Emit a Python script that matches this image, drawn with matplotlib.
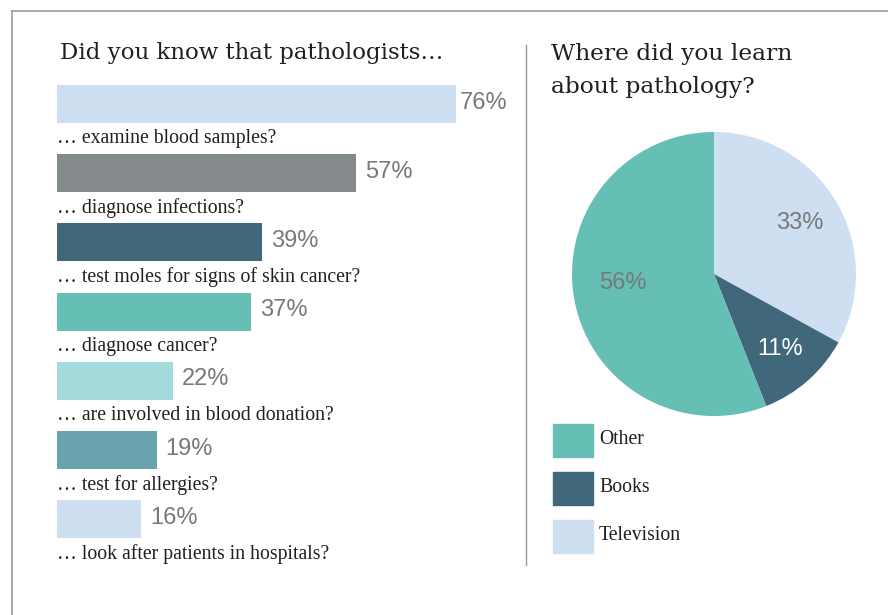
import matplotlib
matplotlib.use('agg')
import matplotlib.pyplot as plt
from matplotlib.lines import Line2D
from matplotlib.patches import Rectangle

# bar chart data
questions = ['… examine blood samples?', '… diagnose infections?',
             '… test moles for signs of skin cancer?', '… diagnose cancer?',
             '… are involved in blood donation?', '… test for allergies?',
             '… look after patients in hospitals?']
shares = [76, 57, 39, 37, 22, 19, 16]
bar_colors = ['#cddff0', '#858a8c', '#41687a', '#66bfb5', '#a4dbdc', '#6aa3ae', '#cddff0']

# pie chart data
sources = ['Television', 'Books', 'Other']
source_shares = [33, 11, 56]
source_colors = ['#cddff0', '#41687a', '#66bfb5']
legend_order = ['Other', 'Books', 'Television']

W, H = 888, 615
fig = plt.figure(figsize=(W / 100, H / 100), dpi=100)

def fx(px):
    return px / W

def fy(px):
    return 1 - px / H

title_font = 'DejaVu Serif'
label_font = 'Liberation Serif'
pct_font = 'Liberation Sans'
dark = '#231f20'
gray = '#77787b'

# frame lines
fig.add_artist(Line2D([fx(12), 1], [fy(11), fy(11)], color='#9a9a9a', lw=1.2))
fig.add_artist(Line2D([fx(12), fx(12)], [0, fy(11)], color='#9a9a9a', lw=1.2))
fig.add_artist(Line2D([fx(526), fx(526)], [fy(565), fy(45)], color='#9a9a9a', lw=1.0))

# titles
fig.text(fx(60), fy(53), 'Did you know that pathologists…', fontsize=16.5,
         family=title_font, color=dark, va='center', ha='left')
fig.text(fx(551), fy(54), 'Where did you learn', fontsize=16.8,
         family=title_font, color=dark, va='center', ha='left')
fig.text(fx(551), fy(87), 'about pathology?', fontsize=16.8,
         family=title_font, color=dark, va='center', ha='left')

# bars: axes from y px 70 to 570, bar pitch 69.2 px, first bar center at 104 px
top_px, bot_px, pitch, first = 70, 570, 69.2, 104
axb = fig.add_axes([fx(57), fy(bot_px), 472.5 / W, (bot_px - top_px) / H])
axb.set_xlim(0, 90)
axb.set_ylim((bot_px - first) / pitch, (top_px - first) / pitch)
axb.axis('off')
ys = list(range(len(shares)))
axb.barh(ys, shares, height=38 / pitch, color=bar_colors, left=0)
for y, v, q in zip(ys, shares, questions):
    off = 0.7 if y == 0 else 1.7
    axb.text(v + off, y - 0.02, f'{v}%', fontsize=17, family=pct_font, color=gray,
             va='center', ha='left')
    axb.text(0, y + 0.5, q, fontsize=14.2, family=label_font, color=dark,
             va='center', ha='left')

# pie
cx, cy, r = 714, 274, 142
axp = fig.add_axes([fx(cx - r), fy(cy + r), 2 * r / W, 2 * r / H])
wedges, texts, autotexts = axp.pie(source_shares, colors=source_colors, startangle=90,
                                   counterclock=False, autopct='%d%%', pctdistance=0.7,
                                   textprops=dict(fontsize=17, family=pct_font, color=gray))
axp.set_xlim(-1, 1)
axp.set_ylim(-1, 1)
axp.set_aspect('auto')
for name, t in zip(sources, autotexts):
    if name == 'Books':
        t.set_color('white')
    if name == 'Other':
        t.set_position((-0.64, -0.06))

# legend squares
for i, name in enumerate(legend_order):
    c = source_colors[sources.index(name)]
    top = 424 + i * 48
    fig.add_artist(Rectangle((fx(553), fy(top + 33)), 40 / W, 33 / H, color=c,
                             transform=fig.transFigure))
    fig.text(fx(599), fy(top + 15), name, fontsize=14.2, family=label_font, color=dark,
             va='center', ha='left')

fig.savefig('out.png', dpi=100)
